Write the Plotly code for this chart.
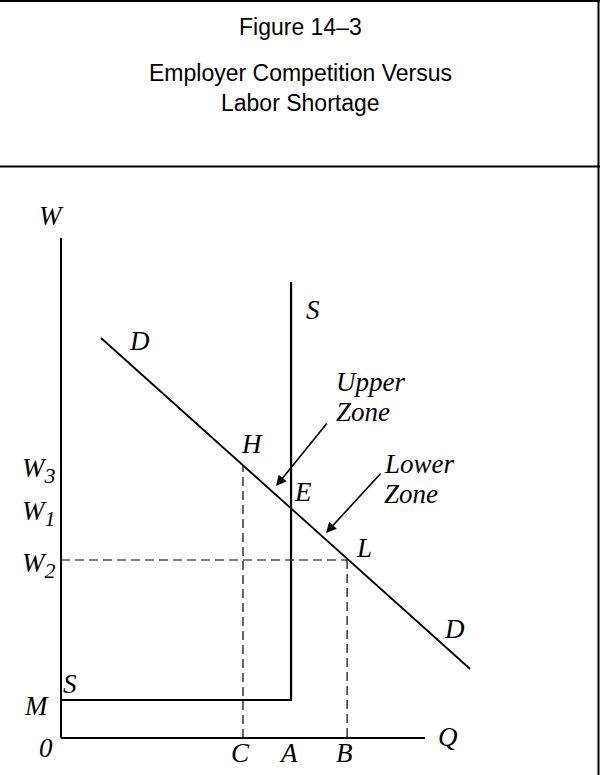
import plotly.graph_objects as go

# title text
title_lines = ["Figure 14\u20133", "Employer Competition Versus", "Labor Shortage"]

# quantities on the Q axis (arbitrary units, axis runs 0..100)
q_labels = ["C", "A", "B"]
q_values = [50.0, 63.2, 78.6]

# wage levels on the W axis (axis runs 0..100)
w_labels = ["W<sub><span style='font-size:22px'>3</span></sub>",
            "W<sub><span style='font-size:22px'>1</span></sub>",
            "W<sub><span style='font-size:22px'>2</span></sub>"]
w_values = [54.6, 46.0, 35.6]
m_wage = 7.6

# supply curve S (flat at M, then vertical at A)
s_q = [0, 63.2, 63.2]
s_w = [7.6, 7.6, 91.2]

# demand curve D
d_q = [11.0, 112.4]
d_w = [80.0, 13.8]

# axis extents
q_axis_end = 100
w_axis_end = 100

# mapping of the page: 3.64 px per Q unit, 5 px per W unit, origin at (61, 738)
px_q, px_w, ox, oy = 3.64, 5.0, 61, 738
W, H = 600, 775
xr = [-ox / px_q, (W - ox) / px_q]
yr = [(oy - H) / px_w, oy / px_w]

fig = go.Figure()

def line(xs, ys, width=2, dash="solid"):
    fig.add_trace(go.Scatter(x=xs, y=ys, mode="lines",
                             line=dict(color="black", width=width, dash=dash),
                             hoverinfo="skip", showlegend=False))

# axes
line([0, 0], [0, w_axis_end], 2)
line([0, q_axis_end], [0, 0], 1.8)

# dashed guides
c, a, b = q_values
w3, w1, w2 = w_values
line([c, c], [0, w3], 1.2, "9px,5px")
line([0, b], [w2, w2], 1.2, "9px,5px")
line([b, b], [w2, 0], 1.2, "9px,5px")

# curves
line(s_q, s_w, 2.2)
line(d_q, d_w, 1.8)

def label(text, q, w, xanchor="center", size=27):
    fig.add_annotation(x=q, y=w, text="<i>%s</i>" % text, showarrow=False,
                       xanchor=xanchor, yanchor="middle",
                       font=dict(family="Liberation Serif", size=size, color="black"))

label("W", -2.5, 104.4)
label("Q", 106.2, 0.2)
label("0", -4.0, -2.0)
label("M", -6.6, 6.4)
label("S", 2.5, 10.8)
label("S", 69.2, 85.6)
label("D", 21.7, 79.4)
label("D", 108.2, 21.8)
label("H", 52.5, 58.8)
label("E", 66.5, 49.2)
label("L", 83.2, 38.0)
for t, q in zip(q_labels, q_values):
    label(t, q - 0.8, -2.9)
for t, yy in zip(w_labels, [53.6, 45.0, 34.6]):
    label(t, -6.0, yy)

label("Upper", 75.0, 71.2, "left")
label("Zone", 75.0, 65.2, "left")
label("Lower", 88.2, 54.8, "left")
label("Zone", 88.2, 48.8, "left")

# zone arrows
for head, tail in [((59.1, 50.4), (73.35, 63.2)), ((72.8, 41.0), (88.2, 53.2))]:
    fig.add_annotation(x=head[0], y=head[1], ax=tail[0], ay=tail[1],
                       xref="x", yref="y", axref="x", ayref="y", text="",
                       showarrow=True, arrowhead=2, arrowsize=1.3,
                       arrowwidth=1.6, arrowcolor="black")

# title
for t, py in zip(title_lines, [27, 73, 103]):
    fig.add_annotation(x=0.5, y=1 - py / H, xref="paper", yref="paper",
                       text=t, showarrow=False, xanchor="center", yanchor="middle",
                       font=dict(family="Liberation Sans", size=23, color="black"))

# frame of the title box and right border
def pline(x0, y0, x1, y1, width=2):
    fig.add_shape(type="line", xref="paper", yref="paper",
                  x0=x0 / W, y0=1 - y0 / H, x1=x1 / W, y1=1 - y1 / H,
                  line=dict(color="black", width=width))

pline(0, 1, 600, 1)
pline(0, 166.5, 600, 166.5)
pline(598.5, 0, 598.5, 775)

fig.update_layout(
    width=W, height=H,
    margin=dict(l=0, r=0, t=0, b=0),
    paper_bgcolor="white", plot_bgcolor="white",
    xaxis=dict(range=xr, visible=False, fixedrange=True),
    yaxis=dict(range=yr, visible=False, fixedrange=True),
)

fig.write_html("out.html", config={"displayModeBar": False},
               post_script="document.body.style.margin='0px';")
